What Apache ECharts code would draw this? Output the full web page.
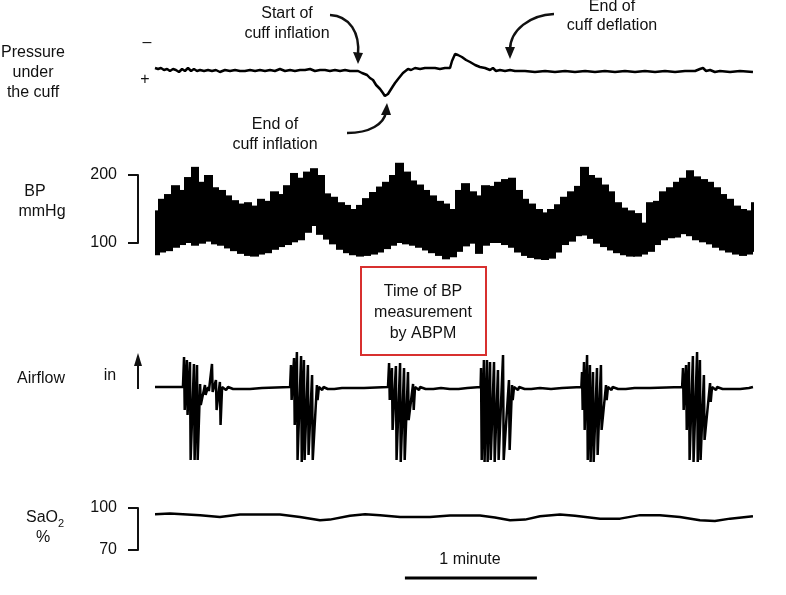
<!DOCTYPE html>
<html><head><meta charset="utf-8">
<script src="https://cdn.jsdelivr.net/npm/echarts@6/dist/echarts.min.js"></script>
<style>html,body{margin:0;padding:0;background:#fff}#c{width:786px;height:595px}</style>
</head><body><div id="c"></div>
<script>
// ---- data (time in seconds) ----
const timeMax = 272;
const scaleBarTimes = [113.6, 173.6];   // 1 minute
const bpTicks = [100, 200];
const saoTicks = [70, 100];

// pressure under the cuff (arbitrary units, + = higher pressure)
const pressureData = [[0,-2],[1.4,-1],[2.7,-2],[4.1,0],[5.5,-1],[6.8,1],[8.2,-1],[9.5,0],[10.9,2],[12.3,-1],[13.6,1],[15,-2],[16.4,1],[17.7,-1],[19.1,1],[20.5,0],[22.3,1],[24.1,0],[25.9,1],[27.7,0],[29.5,2],[31.8,0],[34.1,1],[36.4,0],[38.6,1],[40.9,1],[43.2,0],[45.5,1],[47.7,0],[50,1],[52.3,0],[54.5,1],[56.8,-1],[59.1,1],[61.4,0],[63.6,1],[65.9,0],[68.2,0],[70.5,-1],[72.7,1],[75,0],[77.3,0],[79.5,1],[81.8,0],[84.1,1],[86.4,0],[88.6,1],[90.9,1],[92.3,1],[94.1,3],[96.4,5],[97.7,8],[99.1,10],[100.5,15],[102.3,19],[103.6,23],[104.5,26],[105.9,24],[106.8,22],[108.2,16],[109.1,13],[110.5,9],[111.4,7],[112.7,3],[113.6,1],[115,-1],[116.4,0],[118.2,-2],[120.5,-1],[122.7,-2],[125,-2],[127.3,-2],[129.5,-1],[131.8,-2],[134.1,-2],[135,-9],[136.4,-16],[137.7,-15],[139.5,-13],[141.4,-10],[143.2,-8],[145.5,-5],[147.7,-3],[150,-2],[152.3,0],[153.6,-2],[155,1],[156.8,0],[159.1,1],[161.4,0],[163.6,1],[168.2,1],[172.7,2],[177.3,1],[181.8,2],[186.4,1],[190.9,2],[195.5,1],[200,2],[204.5,1],[209.1,2],[213.6,1],[218.2,2],[222.7,1],[227.3,2],[231.8,1],[236.4,2],[240.9,1],[245.5,1],[247.7,-1],[249.1,-2],[250.5,1],[252.3,0],[254.5,2],[256.8,1],[261.4,2],[265.9,1],[271.8,2]];

// blood pressure envelope (mmHg)
const bpTime = [0,3,6,9,12,15,18,21,24,27,30,33,36,39,42,45,48,51,54,57,60,63,66,69,72,75,78,81,84,87,90,93,96,99,102,105,108,111,114,117,120,123,126,129,132,135,138,141,144,147,150,153,156,159,162,165,168,171,174,177,180,183,186,189,192,195,198,201,204,207,210,213,216,219,222,225,228,231,234,237,240,243,246,249,252,255,258,261,264,267,270,272];
const bpUpper = [148,165,172,185,178,197,212,190,200,182,178,170,163,158,160,155,165,162,176,172,185,203,196,205,210,200,173,168,160,156,150,156,166,175,183,190,200,218,205,192,186,178,170,162,158,150,178,188,176,170,185,184,190,194,196,178,165,158,150,145,150,157,168,176,184,212,200,196,186,176,160,152,148,144,130,160,162,176,182,190,196,207,198,194,190,182,172,165,155,150,148,160];
const bpLower = [82,86,88,93,97,100,96,99,102,98,96,92,88,84,81,80,83,85,90,94,97,101,104,115,125,112,105,98,90,85,82,80,81,83,86,91,96,100,98,96,93,89,85,81,76,79,87,95,99,84,96,100,100,97,93,86,81,78,76,75,77,86,97,102,110,111,106,99,94,89,85,82,80,80,83,87,97,104,107,108,113,110,104,101,98,93,89,86,83,81,83,87];

// airflow (arbitrary units, + = inspiration)
const airflowData = [[0,0],[12.7,0],[13.2,30],[13.5,-23],[14.5,27],[14.8,-28],[15.9,25],[16.2,-73],[17.7,23],[18.0,-73],[19.1,22],[19.4,-73],[20.5,3],[20.8,-18],[22.7,2],[23.0,-8],[24.1,0],[24.5,-4],[25.9,23],[26.2,-5],[27.7,7],[28.0,-23],[29.5,5],[29.8,-38],[30.5,0],[32.3,-3],[33.2,0],[35.5,-2],[36.4,0],[38.6,-2],[39.5,0],[43.2,-2],[44.1,0],[48.6,-1],[49.5,0],[61.4,0],[61.8,22],[62.1,-13],[63.2,29],[63.5,-38],[64.5,35],[64.8,-73],[66.4,31],[66.7,-75],[67.7,27],[68.0,-73],[69.5,22],[69.8,-68],[71.4,12],[71.7,-73],[73.6,2],[73.9,-13],[74.5,0],[76,-3],[76.6,0],[78.5,-2],[79,0],[81.5,-2],[82,0],[85,-1],[85.5,0],[95,-1],[95.5,0],[105.9,0],[106.4,24],[106.7,-13],[107.7,19],[108.0,-43],[109.5,21],[109.8,-73],[111.4,24],[111.7,-75],[113.2,19],[113.5,-73],[115.0,15],[115.3,-33],[117.3,3],[117.6,-23],[118.2,0],[120,-3],[120.5,0],[123,-2],[123.5,0],[126.5,-2],[127,0],[130,-1],[130.5,0],[134,-2],[134.5,0],[138,-2],[138.5,0],[142,-1],[142.5,0],[148,0],[148.2,19],[148.5,-73],[149.5,27],[149.8,-75],[150.9,27],[151.2,-75],[152.3,25],[152.6,-73],[154.1,25],[154.4,-75],[155.9,17],[156.2,-73],[158.2,32],[158.5,-73],[160.9,7],[161.2,-63],[162.3,2],[162.6,-13],[163.2,0],[165,-3],[165.5,0],[168,-2],[168.5,0],[171,-2],[171.5,0],[175,-1],[175.5,0],[180,-2],[180.5,0],[185,-1],[185.5,0],[193.8,0],[194.1,15],[194.4,-23],[195.0,25],[195.3,-43],[196.4,32],[196.7,-73],[197.7,22],[198.0,-75],[199.1,15],[199.4,-75],[200.9,19],[201.2,-68],[202.7,22],[203.0,-43],[205.0,2],[205.3,-13],[205.9,0],[207.5,-3],[208,0],[210.5,-2],[211,0],[214,-2],[214.5,0],[218,-1],[218.5,0],[225,-1],[225.5,0],[239.6,0],[240.0,19],[240.3,-23],[241.4,22],[241.7,-43],[242.7,25],[243.0,-73],[244.5,31],[244.8,-75],[246.4,35],[246.7,-75],[247.7,27],[248.0,-73],[249.5,12],[249.8,-53],[252.3,4],[252.6,-15],[253.2,0],[255,-3],[255.5,0],[258,-2],[258.5,0],[262,-2],[262.5,0],[266,-2],[266.5,0],[270,-1],[271.8,0]];

// SaO2 (%)
const saoData = [[0,95.6],[6.8,96],[20.5,94.9],[29.5,93.6],[38.6,95.4],[56.8,95.4],[65.9,93.6],[75,91.2],[79.5,91.7],[88.6,94.4],[95.5,95.6],[102.3,94.9],[111.4,93.6],[125,93.6],[134.1,94.6],[147.7,94.6],[154.5,93.2],[161.4,91.2],[168.2,91.7],[175,94.1],[184.1,95.4],[190.9,94.4],[202.3,92.4],[211.4,92.4],[220.5,94.9],[229.5,94.9],[238.6,93.6],[247.7,91.2],[254.5,90.7],[261.4,92.4],[271.8,94.1]];

// ---- chart ----
const FONT = '"Liberation Sans", Arial, sans-serif';
const L = 155, W = 598.4;
const black = '#111';
const ink = '#000';
const chart = echarts.init(document.getElementById('c'), null, {renderer: 'canvas'});

function grid(top, height, left, width) { return {left: left == null ? L : left, width: width == null ? W : width, top: top, height: height, containLabel: false}; }
function hiddenX(i, max) { return {type: 'value', gridIndex: i, min: 0, max: max == null ? timeMax : max, show: false}; }
function hiddenY(i, min, max, inverse) { return {type: 'value', gridIndex: i, min: min, max: max, show: false, inverse: !!inverse}; }
function bracketY(i, ticks) {
  return {type: 'value', gridIndex: i, min: ticks[0], max: ticks[1], interval: ticks[1] - ticks[0],
    splitLine: {show: false},
    axisLine: {show: true, lineStyle: {color: black, width: 2}},
    axisTick: {show: true, length: 10, lineStyle: {color: black, width: 2}},
    axisLabel: {show: true, margin: 21, color: black, fontSize: 16, fontFamily: FONT}};
}
function txt(x, y, s, size, align) {
  return {type: 'text', x: x, y: y, style: {text: s, font: (size || 16) + 'px ' + FONT, fill: black, align: align || 'center', verticalAlign: 'middle'}};
}
function curve(x1, y1, c1x, c1y, c2x, c2y, x2, y2) {
  return {type: 'bezierCurve', shape: {x1: x1, y1: y1, cpx1: c1x, cpy1: c1y, cpx2: c2x, cpy2: c2y, x2: x2, y2: y2}, style: {stroke: black, lineWidth: 2.5, fill: null}};
}
function head(pts) { return {type: 'polygon', shape: {points: pts}, style: {fill: black}}; }

const bpRows = bpTime.map((t, i) => [t, bpLower[i], bpUpper[i]]);

const option = {
  animation: false,
  backgroundColor: '#fff',
  grid: [
    grid(40, 60),              // 0 pressure
    grid(154.6, 108.8),        // 1 BP data
    grid(175, 68, 138, 10),    // 2 BP bracket
    grid(347, 120),            // 3 airflow
    grid(508, 42),             // 4 SaO2 data
    grid(508, 42, 138, 10),    // 5 SaO2 bracket
    grid(577, 2)               // 6 scale bar
  ],
  xAxis: [hiddenX(0), hiddenX(1), hiddenX(2, 1), hiddenX(3), hiddenX(4), hiddenX(5, 1), hiddenX(6)],
  yAxis: [
    hiddenY(0, -30, 30, true),
    hiddenY(1, 70, 230),
    bracketY(2, bpTicks),
    hiddenY(3, -80, 40),
    hiddenY(4, 70, 100),
    bracketY(5, saoTicks),
    hiddenY(6, -1, 1)
  ],
  series: [
    {type: 'line', xAxisIndex: 0, yAxisIndex: 0, data: pressureData, symbol: 'none', lineStyle: {color: ink, width: 2.5}, clip: false},
    {type: 'custom', xAxisIndex: 1, yAxisIndex: 1, data: bpRows, clip: false,
      encode: {x: 0, y: [1, 2]},
      renderItem: function (params, api) {
        const i = params.dataIndex;
        const t = api.value(0);
        const t0 = i === 0 ? 0 : (bpTime[i - 1] + t) / 2;
        const t1 = i === bpTime.length - 1 ? timeMax : (bpTime[i + 1] + t) / 2;
        const a = api.coord([t0, api.value(2)]);
        const b = api.coord([t1, api.value(1)]);
        const x0 = Math.floor(a[0]), x1 = Math.ceil(b[0]) + (i === bpTime.length - 1 ? 0 : 1);
        return {type: 'rect', shape: {x: x0, y: a[1], width: x1 - x0, height: b[1] - a[1]}, style: {fill: ink}};
      }},
    {type: 'line', xAxisIndex: 3, yAxisIndex: 3, data: airflowData, symbol: 'none', lineStyle: {color: ink, width: 2.5}, clip: false},
    {type: 'line', xAxisIndex: 4, yAxisIndex: 4, data: saoData, symbol: 'none', lineStyle: {color: ink, width: 2.5}, clip: false},
    {type: 'line', xAxisIndex: 6, yAxisIndex: 6, data: scaleBarTimes.map(t => [t, 0]), symbol: 'none', lineStyle: {color: ink, width: 3}, clip: false}
  ],
  graphic: [
    // left labels
    txt(33, 53, 'Pressure'), txt(33, 73, 'under'), txt(33, 93, 'the cuff'),
    txt(147, 43, '\u2013'), txt(145, 80, '+'),
    txt(35, 192, 'BP'), txt(42, 212, 'mmHg'),
    txt(41, 379, 'Airflow'),
    txt(110, 376, 'in'),
    {type: 'line', shape: {x1: 138, y1: 389, x2: 138, y2: 362}, style: {stroke: black, lineWidth: 2}},
    head([[138, 353], [134, 366], [142, 366]]),
    {type: 'text', x: 58, y: 518, style: {text: 'SaO', font: '16px ' + FONT, fill: black, align: 'right', verticalAlign: 'middle'}},
    {type: 'text', x: 58, y: 524, style: {text: '2', font: '11px ' + FONT, fill: black, align: 'left', verticalAlign: 'middle'}},
    txt(43, 538, '%'),
    // annotations
    txt(287, 14, 'Start of'), txt(287, 34, 'cuff inflation'),
    curve(330, 15, 350, 16, 360, 33, 358, 55),
    head([[358, 64], [353, 52], [363, 53]]),
    txt(275, 125, 'End of'), txt(275, 145, 'cuff inflation'),
    curve(347, 133, 370, 133, 384, 124, 386, 112),
    head([[387, 103], [381, 115], [391, 115]]),
    txt(612, 7, 'End of'), txt(612, 26, 'cuff deflation'),
    curve(554, 14, 530, 15, 510, 30, 510, 50),
    head([[510, 59], [505, 47], [515, 47]]),
    // red box
    {type: 'rect', shape: {x: 361, y: 267, width: 125, height: 88}, style: {stroke: '#d8302f', lineWidth: 2, fill: '#fff'}},
    txt(423, 292, 'Time of BP'), txt(423, 313, 'measurement'), txt(423, 334, 'by ABPM'),
    // scale bar label
    txt(470, 560, '1 minute')
  ]
};
chart.setOption(option);
</script>
</body></html>
